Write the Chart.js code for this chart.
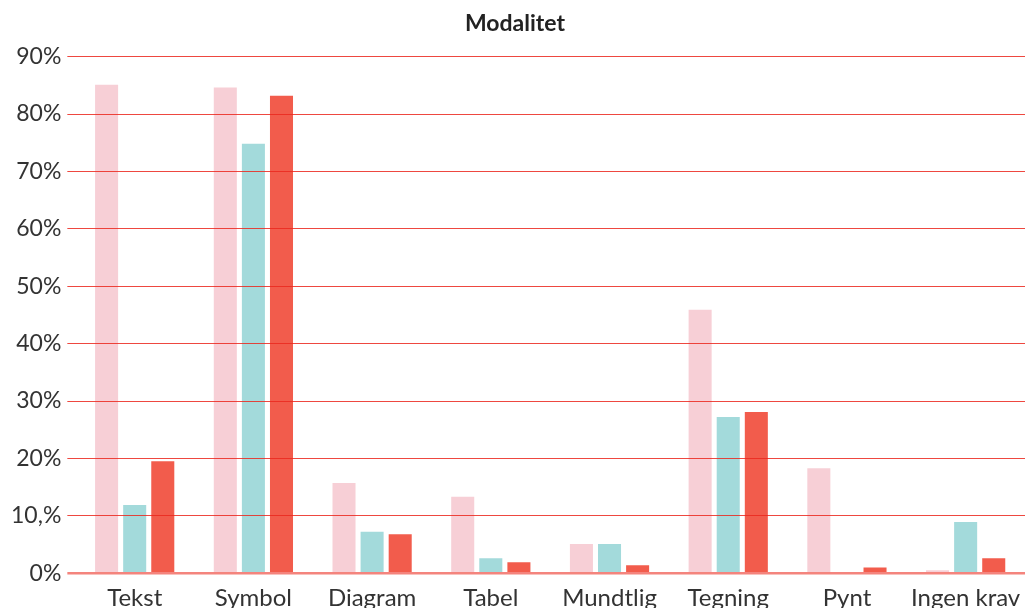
<!DOCTYPE html>
<html>
<head>
<meta charset="utf-8">
<script src="https://cdn.jsdelivr.net/npm/chart.js@4"></script>
<style>
  html, body { margin: 0; padding: 0; background: #fff; }
  #wrap { width: 1025px; height: 608px; }
</style>
</head>
<body>
<div id="wrap"><canvas id="canvas"></canvas></div>
<script>
const categories = ["Tekst", "Symbol", "Diagram", "Tabel", "Mundtlig", "Tegning", "Pynt", "Ingen krav"];
const seriesA = [85.1, 84.6, 15.7, 13.3, 5.1, 45.9, 18.3, 0.5];
const seriesB = [11.9, 74.8, 7.2, 2.6, 5.1, 27.2, 0, 8.9];
const seriesC = [19.5, 83.2, 6.8, 1.9, 1.4, 28.1, 1.0, 2.6];
const tickLabels = ["0%", "10,%", "20%", "30%", "40%", "50%", "60%", "70%", "80%", "90%"];

Chart.defaults.font.family = "Lato, 'Open Sans', sans-serif";
Chart.defaults.color = "#333";

const ctx = document.getElementById("canvas");

new Chart(ctx, {
  type: "bar",
  data: {
    labels: categories,
    datasets: [
      { label: "A", data: seriesA, backgroundColor: "#F7CFD6" },
      { label: "B", data: seriesB, backgroundColor: "#A3DADB" },
      { label: "C", data: seriesC, backgroundColor: "#F25C4C" },
    ],
  },
  options: {
    responsive: true,
    maintainAspectRatio: false,
    animation: false,
    categoryPercentage: 0.71,
    barPercentage: 0.82,
    layout: { padding: { top: 2, right: 0, bottom: -8, left: 5 } },
    plugins: {
      legend: { display: false },
      tooltip: { enabled: false },
      title: {
        display: true,
        text: "Modalitet",
        color: "#222",
        font: { size: 23, weight: "bold" },
        padding: { top: 8, bottom: 19 },
      },
    },
    scales: {
      x: {
        grid: { display: false },
        border: { display: false },
        ticks: { font: { size: 24 }, color: "#333", padding: 3, maxRotation: 0, autoSkip: false },
      },
      y: {
        min: 0,
        max: 90,
        border: { display: false },
        grid: {
          z: 1,
          tickLength: 8,
          color: (c) => (c.tick && c.tick.value === 0 ? "rgba(240,80,70,0.7)" : "rgba(235,40,30,0.85)"),
          lineWidth: (c) => (c.tick && c.tick.value === 0 ? 2.5 : 1),
        },
        ticks: {
          stepSize: 10,
          font: { size: 23 },
          color: "#333",
          padding: 6,
          callback: (v) => tickLabels[Math.round(v / 10)],
        },
      },
    },
  },
});
</script>
</body>
</html>
